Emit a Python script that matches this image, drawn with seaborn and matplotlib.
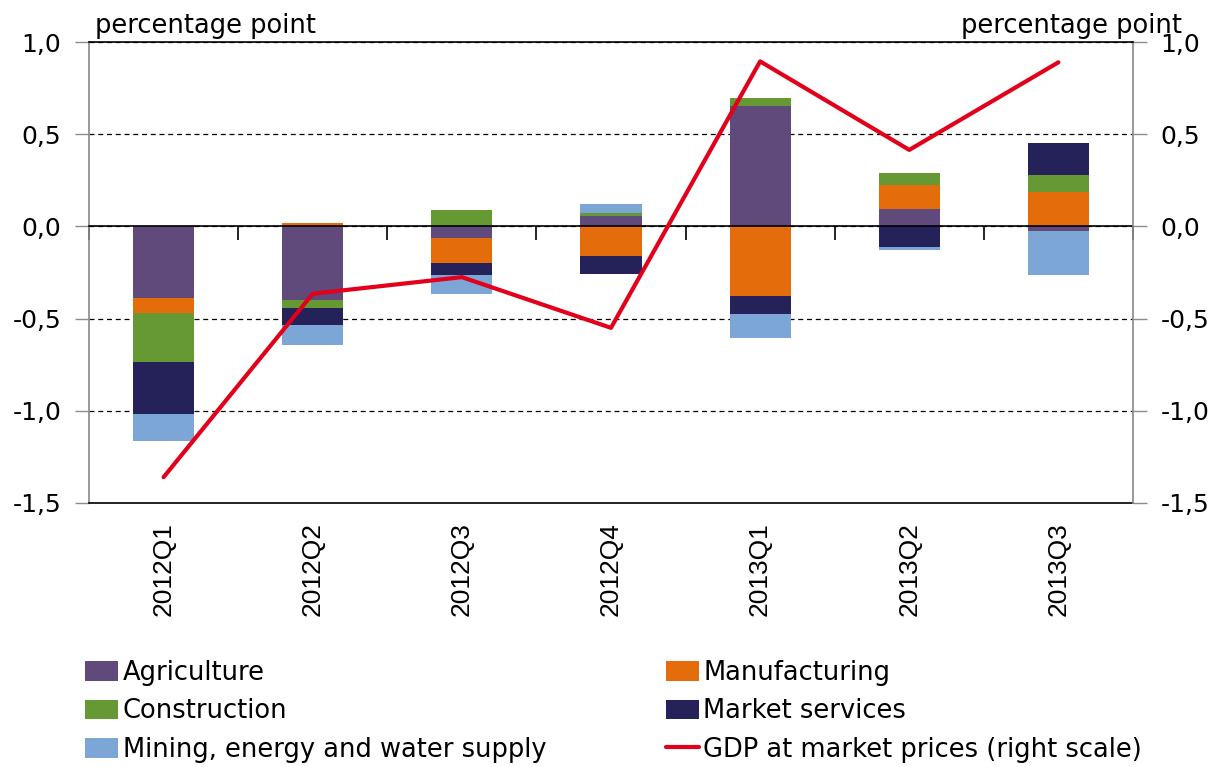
import numpy as np
import matplotlib
matplotlib.use("Agg")
import matplotlib.pyplot as plt
from matplotlib.patches import Patch
from matplotlib.lines import Line2D
from matplotlib.ticker import FixedLocator, FixedFormatter, FuncFormatter
import seaborn as sns

# contributions to GDP growth, percentage point
quarters = ["2012Q1", "2012Q2", "2012Q3", "2012Q4", "2013Q1", "2013Q2", "2013Q3"]
agriculture = [-0.39, -0.40, -0.065, 0.055, 0.655, 0.095, -0.025]
manufacturing = [-0.08, 0.02, -0.135, -0.16, -0.375, 0.13, 0.185]
construction = [-0.265, -0.045, 0.09, 0.02, 0.04, 0.065, 0.095]
market_services = [-0.28, -0.09, -0.065, -0.10, -0.10, -0.112, 0.17]
mining = [-0.15, -0.11, -0.10, 0.045, -0.13, -0.014, -0.24]
gdp = [-1.36, -0.365, -0.275, -0.55, 0.895, 0.415, 0.89]

names = ["Agriculture", "Manufacturing", "Construction", "Market services",
         "Mining, energy and water supply"]
series = [agriculture, manufacturing, construction, market_services, mining]
colors = ["#604A7B", "#E46C0A", "#669933", "#242258", "#7BA6D6"]
red = "#E2001A"
yticks = [-1.5, -1.0, -0.5, 0.0, 0.5, 1.0]

sns.set_theme(style="white")
plt.rcParams["font.family"] = ["DejaVu Sans"]
plt.rcParams["text.color"] = "black"
plt.rcParams["xtick.labelcolor"] = "black"
plt.rcParams["ytick.labelcolor"] = "black"

fig = plt.figure(figsize=(12.21, 7.67), dpi=100)
ax = fig.add_axes([0.0729, 0.3442, 0.8550, 0.6010])

# stacked bars, positives and negatives stacked separately
pos = np.zeros(len(quarters))
neg = np.zeros(len(quarters))
for vals, col in zip(series, colors):
    v = np.array(vals)
    bottom = np.where(v >= 0, pos, neg)
    sns.barplot(x=quarters, y=v, bottom=bottom, color=col, width=0.41,
                saturation=1, linewidth=0, errorbar=None, ax=ax)
    pos += np.clip(v, 0, None)
    neg += np.clip(v, None, 0)

ax2 = ax.twinx()
sns.lineplot(x=quarters, y=gdp, color=red, lw=3, ax=ax2)

fmt = FuncFormatter(lambda v, p: f"{0.0 if abs(v) < 1e-9 else v:.1f}".replace(".", ","))
for a in (ax, ax2):
    a.set_ylim(-1.5, 1.0)
    a.yaxis.set_major_locator(FixedLocator(yticks))
    a.yaxis.set_major_formatter(fmt)
    a.set_xlabel("")
    a.set_ylabel("")
ax.set_xlim(-0.5, len(quarters) - 0.5)

ax.yaxis.grid(True, ls=(0, (4, 3)), color="black", lw=0.9)
ax.xaxis.grid(False)

# x axis: labels at bottom, separators on the zero line
ax.xaxis.set_major_locator(FixedLocator(range(len(quarters))))
ax.xaxis.set_major_formatter(FixedFormatter(quarters))
ax.xaxis.set_minor_locator(FixedLocator(np.arange(len(quarters) + 1) - 0.5))
ax.tick_params(axis="x", which="major", bottom=True, top=False, length=0, pad=14,
               labelrotation=90, labelsize=19, labelcolor="black")
ax.tick_params(axis="x", which="minor", bottom=False, top=True, direction="in",
               length=10, width=1.2, color="black")
ax.tick_params(axis="y", left=True, length=10, width=1, color="#8C8C8C", pad=10,
               labelsize=18, labelcolor="black")
ax2.tick_params(axis="y", right=True, length=10, width=1, color="#8C8C8C", pad=10,
                labelsize=18, labelcolor="black")

ax.spines["top"].set_position(("data", 0))
ax.spines["top"].set_color("black")
ax.spines["top"].set_linewidth(1.2)
ax.spines["bottom"].set_color("black")
ax.spines["bottom"].set_linewidth(1.2)
ax.spines["left"].set_color("#8C8C8C")
ax.spines["right"].set_visible(False)
ax2.spines["left"].set_visible(False)
ax2.spines["bottom"].set_visible(False)
ax2.spines["top"].set_color("black")
ax2.spines["top"].set_linewidth(1.2)
ax2.spines["right"].set_color("#8C8C8C")

fig.text(95 / 1221, 1 - 33 / 767, "percentage point", fontsize=18.5, va="baseline", ha="left")
fig.text(1182 / 1221, 1 - 33 / 767, "percentage point", fontsize=18.5, va="baseline", ha="right")

patches = [Patch(facecolor=c, edgecolor="none", label=n) for n, c in zip(names, colors)]
gdp_line = Line2D([], [], color=red, lw=3, label="GDP at market prices (right scale)")
handles = [patches[0], patches[2], patches[4], patches[1], patches[3], gdp_line]
fig.legend(handles=handles, labels=[h.get_label() for h in handles], ncol=2,
           loc="upper left", bbox_to_anchor=(85 / 1221, 1 - 660 / 767), frameon=False,
           fontsize=18.5, handlelength=1.3, handleheight=0.8, handletextpad=0.16,
           labelspacing=0.48, columnspacing=4.65, borderpad=0, borderaxespad=0)

fig.canvas.draw()
for lab in ax.get_xticklabels():
    lab.set_fontfamily("Liberation Sans")

fig.savefig("out.png", dpi=100)
